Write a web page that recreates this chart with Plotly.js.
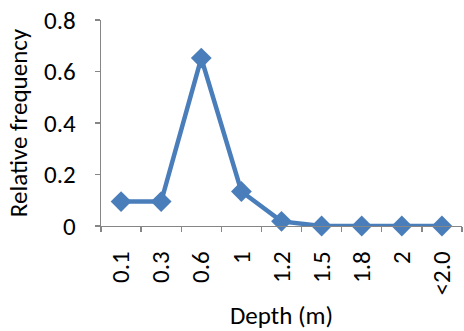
<!DOCTYPE html>
<html><head><meta charset="utf-8">
<script src="https://cdn.plot.ly/plotly-3.0.1.min.js"></script>
<style>html,body{margin:0;padding:0;background:#fff;}#c{width:464px;height:331px;}</style>
</head><body><div id="c"></div>
<script>
const depths = ["0.1","0.3","0.6","1","1.2","1.5","1.8","2","<2.0"];
const relFreq = [0.095,0.095,0.652,0.134,0.018,0,0,0,0];
const yTicks = [0,0.2,0.4,0.6,0.8];
const yTickText = ["0","0.2","0.4","0.6","0.8"];
const fontFam = "Carlito, Calibri, 'Open Sans', 'Liberation Sans', sans-serif";
Plotly.newPlot('c',[{
  x: depths, y: relFreq, type:'scatter', mode:'lines+markers',
  line:{color:'#4a7ebb', width:4.5},
  marker:{symbol:'diamond', size:16, color:'#4a7ebb'},
  cliponaxis:false, hoverinfo:'none'
}],{
  width:464, height:331,
  margin:{l:101,r:2,t:20,b:105},
  paper_bgcolor:'#fff', plot_bgcolor:'#fff',
  showlegend:false,
  font:{family:fontFam, size:25, color:'#000'},
  xaxis:{type:'category', range:[-0.5,8.5], automargin:false, showline:true, linecolor:'#868686', linewidth:1.3,
    ticks:'outside', tickson:'boundaries', ticklen:5, tickcolor:'#868686', tickwidth:1.3,
    tickangle:-90, showgrid:false, zeroline:false, fixedrange:true,
    tickfont:{size:25}, ticklabelstandoff:14,
    title:{text:'Depth (m)', font:{size:25}, standoff:22}},
  yaxis:{range:[0,0.8], automargin:false, tickvals:yTicks, ticktext:yTickText, showline:true, linecolor:'#868686', linewidth:1.3,
    ticks:'outside', ticklen:5, tickcolor:'#868686', tickwidth:1.3,
    showgrid:false, zeroline:false, fixedrange:true, tickfont:{size:25}, ticklabelstandoff:14,
    title:{text:'Relative frequency', font:{size:25}, standoff:9}}
},{displayModeBar:false, staticPlot:true});
</script></body></html>
